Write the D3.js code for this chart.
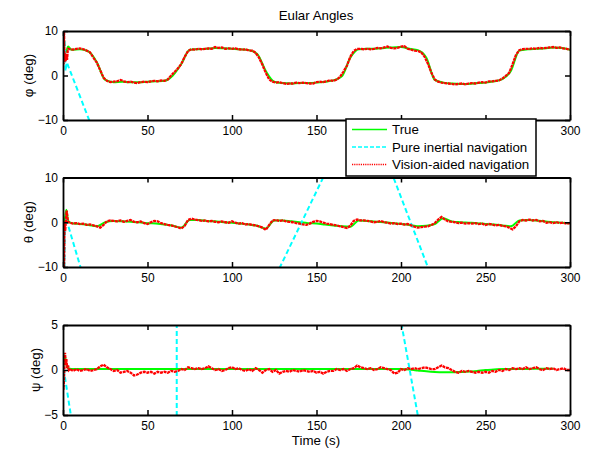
<!DOCTYPE html>
<html><head><meta charset="utf-8">
<script src="https://cdn.jsdelivr.net/npm/d3@7"></script>
<style>
body{margin:0;background:#fff}
svg{display:block}
text{font-family:"Liberation Sans",Arial,Helvetica,sans-serif;fill:#000}
</style></head>
<body><svg id="c" width="595" height="451"></svg>
<script>
// ---------- data ----------
const xTicks = [0, 50, 100, 150, 200, 250, 300];
const seriesNames = ["True", "Pure inertial navigation", "Vision-aided navigation"];

// time bases
const trueTime = [0, 1, 2, 3].concat(d3.range(5, 301, 5));
const redGridTime = d3.range(4, 301, 2);

// ---- phi ----
const phiTrue = [6.0, 5.0, 5.5, 6.5,
  5.8, 5.9, 5.4, 3.0, -1.0, -1.5, -1.4, -1.5, -1.5, -1.4, -1.3, -1.2,
  0.0, 2.6, 5.8, 5.9, 6.0, 6.2, 6.1, 6.0, 5.9, 5.7, 4.8, 1.0,
  -1.4, -1.7, -1.8, -1.7, -1.7, -1.6, -1.4, -1.1, -0.2, 4.0, 5.9, 6.0,
  6.0, 6.2, 6.3, 6.4, 6.0, 5.7, 4.0, -1.0, -1.6, -1.8, -1.9, -1.9,
  -1.7, -1.6, -1.3, -0.8, 1.0, 5.6, 5.9, 6.0, 6.1, 6.3, 6.2, 5.8];
const phiRedStartT = [0, 0.3, 0.6, 0.9, 1.2, 1.6, 2.0, 2.4, 2.8, 3.2];
const phiRedStart = [12, 2.5, 10.5, 3.0, 5.0, 3.2, 4.8, 3.5, 5.6, 6.0];
const phiRed = [
  5.9, 5.8, 6.0, 6.1, 5.9, 5.6, 5.2, 4.0, 2.9, 1.2,
  -0.5, -1.2, -1.5, -1.4, -1.3, -1.0, -1.3, -1.5, -1.4, -1.6,
  -1.7, -1.5, -1.4, -1.5, -1.3, -1.2, -1.3, -1.1, -1.2, -0.9,
  0.0, 0.8, 1.6, 2.6, 4.2, 5.5, 5.9, 5.8, 6.0, 5.9,
  6.0, 6.1, 6.0, 6.4, 6.2, 6.3, 6.0, 6.1, 6.0, 6.1,
  5.9, 5.8, 5.9, 5.6, 5.6, 5.1, 4.0, 2.4, 0.6, -0.9,
  -1.4, -1.6, -1.5, -1.7, -1.9, -1.8, -1.8, -1.6, -1.7, -1.6,
  -1.7, -1.8, -1.8, -1.5, -1.4, -1.5, -1.3, -1.1, -1.2, -0.9,
  -0.3, 0.9, 2.2, 4.2, 5.5, 6.0, 6.0, 5.9, 6.0, 5.9,
  6.0, 6.2, 6.1, 6.3, 6.5, 6.2, 6.1, 6.2, 6.5, 6.6,
  6.0, 5.8, 5.6, 5.5, 5.2, 4.2, 2.6, 0.6, -0.9, -1.4,
  -1.6, -1.7, -1.8, -1.9, -2.0, -1.9, -1.8, -2.0, -1.8, -1.7,
  -1.8, -1.6, -1.5, -1.6, -1.3, -1.3, -1.2, -1.1, -0.7, -0.1,
  0.6, 2.5, 4.6, 5.7, 5.9, 6.0, 6.0, 6.1, 6.0, 6.2,
  6.1, 6.2, 6.3, 6.4, 6.2, 6.3, 6.1, 6.0, 5.8];
const phiPureT = [0, 0.5, 1.0, 1.5, 2.2, 16.5];
const phiPure = [12, 3, 8, 1, 3, -11];

// ---- theta ----
const thetaTrue = [0.0, 0.5, 2.8, 0.3,
  -0.2, -0.4, -0.6, -0.9, 0.0, 0.3, 0.2, 0.1, 0.0, -0.2, -0.3, -0.5,
  -0.8, -1.2, 0.5, 0.5, 0.3, 0.2, 0.0, -0.1, -0.3, -0.5, -0.8, -1.4,
  0.4, 0.4, 0.2, 0.0, -0.2, -0.3, -0.5, -0.7, -0.9, -1.0, 0.4, 0.3,
  0.1, 0.0, -0.2, -0.4, -0.6, -0.9, -0.8, -0.4, 0.9, 0.2, 0.0, -0.1,
  -0.2, -0.4, -0.5, -0.7, -0.9, 0.4, 0.5, 0.4, 0.2, 0.0, -0.1, -0.2];
const thetaRedStartT = [0, 0.3, 0.6, 0.9, 1.3, 1.8, 2.2, 2.8, 3.2];
const thetaRedStart = [-14, 0.2, -12, -0.5, -2.0, 1.0, 2.6, 0.5, 0.0];
const thetaRed = [
  -0.1, -0.3, -0.2, -0.4, -0.3, -0.6, -0.5, -0.7, -0.9, -1.2,
  -0.6, 0.2, 0.4, 0.3, 0.2, 0.4, 0.1, 0.3, 0.5, 0.1,
  0.0, 0.2, -0.2, -0.4, 0.0, 0.3, 0.2, -0.2, -0.4, -0.6,
  -0.7, -0.9, -1.1, -1.4, -0.8, 0.5, 0.8, 0.6, 0.5, 0.3,
  0.4, 0.2, 0.3, 0.1, 0.0, 0.2, 0.0, -0.1, 0.2, -0.1,
  -0.3, -0.2, -0.5, -0.4, -0.6, -0.7, -0.9, -1.2, -1.7, -0.6,
  0.4, 0.5, 0.3, 0.4, 0.2, 0.1, 0.0, -0.2, -0.3, -0.5,
  -0.6, -0.3, 0.1, 0.3, 0.2, -0.1, -0.3, -0.4, -0.6, -0.7,
  -0.9, -1.1, -1.3, -0.8, 0.3, 0.6, 0.4, 0.4, 0.3, 0.2,
  0.0, 0.1, 0.3, 0.0, -0.1, -0.3, -0.2, -0.4, -0.3, -0.5,
  -0.4, -0.7, -1.0, -1.2, -1.1, -1.0, -0.9, -0.6, -0.2, 0.6,
  1.2, 0.6, 0.2, 0.1, 0.0, -0.2, -0.1, -0.3, -0.2, -0.3,
  -0.2, -0.4, -0.3, -0.6, -0.4, -0.5, -0.7, -0.6, -0.8, -0.9,
  -1.2, -1.6, -0.9, 0.2, 0.5, 0.4, 0.6, 0.4, 0.5, 0.2,
  0.3, -0.1, 0.0, -0.2, 0.0, -0.2, -0.1, -0.3, -0.2];
const thetaPureT = [0, 0.4, 0.8, 1.2, 2.0, 11.5, null, 126, 156.5, null, 194, 217.5];
const thetaPure = [-13, 0, -12, -0.5, 0.6, -11.5, null, -11.9, 12, null, 11.5, -11.6];

// ---- psi ----
const psiTrue = [0.0, 1.6, 0.6, 0.2,
  0.1, 0.1, 0.1, 0.1, 0.1, 0.1, 0.1, 0.1, 0.1, 0.1, 0.1, 0.1,
  0.1, 0.1, 0.1, 0.1, 0.1, 0.1, 0.1, 0.1, 0.1, 0.1, 0.1, 0.1,
  0.1, 0.1, 0.1, 0.1, 0.1, 0.1, 0.1, 0.1, 0.1, 0.1, 0.1, 0.1,
  0.1, 0.1, 0.1, 0.1, 0.05, -0.05, -0.15, -0.22, -0.25, -0.25, -0.22, -0.18,
  -0.1, 0.0, 0.05, 0.1, 0.1, 0.12, 0.12, 0.15, 0.15, 0.15];
const psiRedStartT = [0, 0.3, 0.6, 0.9, 1.2, 1.6, 2.0, 2.5, 3.0, 3.5];
const psiRedStart = [-1.2, -2.2, -1.0, 0.5, 1.9, 0.8, 1.2, 0.2, 0.5, 0.0];
const psiRed = [
  0.1, -0.1, 0.1, -0.1, 0.0, 0.1, -0.1, 0.0, 0.1, 0.4,
  0.6, 0.3, 0.1, -0.1, 0.0, -0.3, -0.2, -0.1, -0.3, -0.6,
  -0.5, -0.3, -0.2, -0.3, -0.2, -0.4, -0.2, -0.3, -0.2, -0.3,
  -0.1, -0.2, -0.1, 0.1, 0.0, 0.3, 0.2, 0.1, 0.2, 0.1,
  0.2, 0.4, 0.2, 0.0, 0.1, -0.1, 0.0, 0.2, 0.3, 0.1,
  0.2, 0.0, -0.1, 0.1, -0.1, 0.2, 0.0, -0.3, 0.0, 0.1,
  -0.2, 0.0, -0.4, -0.2, -0.1, -0.2, 0.0, -0.1, -0.2, 0.0,
  -0.1, -0.2, -0.1, -0.3, -0.2, -0.4, -0.2, -0.1, -0.1, 0.1,
  0.0, 0.1, -0.1, 0.1, 0.2, 0.5, 0.3, 0.2, 0.1, 0.2,
  0.0, 0.1, 0.3, 0.2, 0.1, 0.0, -0.4, -0.3, 0.1, 0.0,
  0.2, 0.1, 0.2, 0.1, 0.2, 0.3, 0.2, 0.1, 0.1, 0.3,
  0.5, 0.3, 0.2, 0.0, -0.2, -0.3, -0.1, -0.2, -0.1, -0.2,
  -0.3, -0.2, -0.3, -0.2, -0.3, -0.1, -0.2, 0.0, -0.1, 0.1,
  0.0, 0.2, 0.1, 0.2, 0.1, 0.3, 0.1, 0.2, 0.3, 0.1,
  0.0, 0.2, 0.1, 0.2, 0.0, 0.1, 0.2, 0.0, 0.0];
const psiPureT = [0, 0.5, 5.6, null, 67.3, 67.3, null, 199.4, 211];
const psiPure = [-1, 0, -6.2, null, -6, 6, null, 6.05, -6.15];

// ---------- drawing ----------
const svg = d3.select("#c");
const L = 63, R = 570;
const x = d3.scaleLinear().domain([0, 300]).range([L, R]);
const zip = (ts, vs) => ts.map((t, i) => ({t: t, v: vs[i]}));
const labelFont = 13.3;

const panels = [
  {top: 31, bottom: 120, dom: [-10, 10], ticks: [-10, 0, 10], label: "\u03c6 (deg)", lx: 33,
   tr: phiTrue, rsT: phiRedStartT, rs: phiRedStart, red: phiRed, pT: phiPureT, p: phiPure,
   hiddenX: [200, 250]},
  {top: 177.5, bottom: 267, dom: [-10, 10], ticks: [-10, 0, 10], label: "\u03b8 (deg)", lx: 33,
   tr: thetaTrue, rsT: thetaRedStartT, rs: thetaRedStart, red: thetaRed, pT: thetaPureT, p: thetaPure,
   hiddenX: []},
  {top: 325, bottom: 415, dom: [-5, 5], ticks: [-5, 0, 5], label: "\u03c8 (deg)", lx: 40,
   tr: psiTrue, rsT: psiRedStartT, rs: psiRedStart, red: psiRed, pT: psiPureT, p: psiPure,
   hiddenX: []}
];

const colTrue = "#00ff00", colPure = "#00ffff", colRed = "#ff0000";

panels.forEach((p, i) => {
  const y = d3.scaleLinear().domain(p.dom).range([p.bottom, p.top]);
  const g = svg.append("g");
  const cid = "clip" + i;
  svg.append("clipPath").attr("id", cid).append("rect")
    .attr("x", L).attr("y", p.top).attr("width", R - L).attr("height", p.bottom - p.top);

  const line = d3.line().defined(d => d.v != null && d.t != null)
    .x(d => x(d.t)).y(d => y(d.v));

  const plot = g.append("g").attr("clip-path", `url(#${cid})`);
  plot.append("path").datum(zip(trueTime, p.tr))
    .attr("d", line.curve(d3.curveMonotoneX)).attr("fill", "none")
    .attr("stroke", colTrue).attr("stroke-width", 2);
  line.curve(d3.curveLinear);
  plot.append("path").datum(zip(p.pT, p.p))
    .attr("d", line).attr("fill", "none")
    .attr("stroke", colPure).attr("stroke-width", 2).attr("stroke-dasharray", "5,3");
  const redData = zip(p.rsT, p.rs).concat(zip(redGridTime, p.red));
  plot.append("path").datum(redData)
    .attr("d", line).attr("fill", "none")
    .attr("stroke", colRed).attr("stroke-width", 2.3).attr("stroke-dasharray", "3,0.7");

  // axes (MATLAB-style box with inward ticks)
  const ax = g.append("g");
  const fmtX = d => p.hiddenX.includes(d) ? "" : d3.format("d")(d);
  ax.append("g").attr("transform", `translate(0,${p.bottom})`)
    .call(d3.axisBottom(x).tickValues(xTicks).tickSize(-5).tickSizeOuter(0).tickPadding(6).tickFormat(fmtX));
  ax.append("g").attr("transform", `translate(0,${p.top})`)
    .call(d3.axisTop(x).tickValues(xTicks).tickSize(-5).tickSizeOuter(0).tickFormat(""));
  ax.append("g").attr("transform", `translate(${L},0)`)
    .call(d3.axisLeft(y).tickValues(p.ticks).tickSize(-5).tickSizeOuter(0).tickPadding(5).tickFormat(d3.format("d")));
  ax.append("g").attr("transform", `translate(${R},0)`)
    .call(d3.axisRight(y).tickValues(p.ticks).tickSize(-5).tickSizeOuter(0).tickFormat(""));
  ax.selectAll(".domain").attr("stroke", "#000").attr("stroke-width", 1.8);
  ax.selectAll(".tick line").attr("stroke", "#000").attr("stroke-width", 1.5);
  ax.selectAll(".tick text").attr("font-size", 12).attr("fill", "#000")
    .attr("font-family", '"Liberation Sans",Arial,sans-serif');

  g.append("text").attr("transform", `translate(${p.lx},${(p.top + p.bottom) / 2}) rotate(-90)`)
    .attr("text-anchor", "middle").attr("font-size", labelFont).text(p.label);
});

// title + x label
svg.append("text").attr("x", 316).attr("y", 20).attr("text-anchor", "middle")
  .attr("font-size", labelFont).text("Eular Angles");
svg.append("text").attr("x", 316).attr("y", 445).attr("text-anchor", "middle")
  .attr("font-size", labelFont).text("Time (s)");

// legend
const lg = svg.append("g");
lg.append("rect").attr("x", 346).attr("y", 119).attr("width", 190).attr("height", 57)
  .attr("fill", "#fff").attr("stroke", "#000").attr("stroke-width", 1.5);
const legStyles = [
  {c: colTrue, dash: null},
  {c: colPure, dash: "4,2"},
  {c: colRed, dash: "1.2,1"}
];
const legY = d3.scalePoint().domain(seriesNames).range([129.5, 164.5]);
seriesNames.forEach((n, i) => {
  const yy = legY(n);
  lg.append("line").attr("x1", 352).attr("x2", 387).attr("y1", yy).attr("y2", yy)
    .attr("stroke", legStyles[i].c).attr("stroke-width", 1.5)
    .attr("stroke-dasharray", legStyles[i].dash);
  lg.append("text").attr("x", 392).attr("y", yy + 4.8).attr("font-size", labelFont).text(n);
});
</script>
</body></html>
